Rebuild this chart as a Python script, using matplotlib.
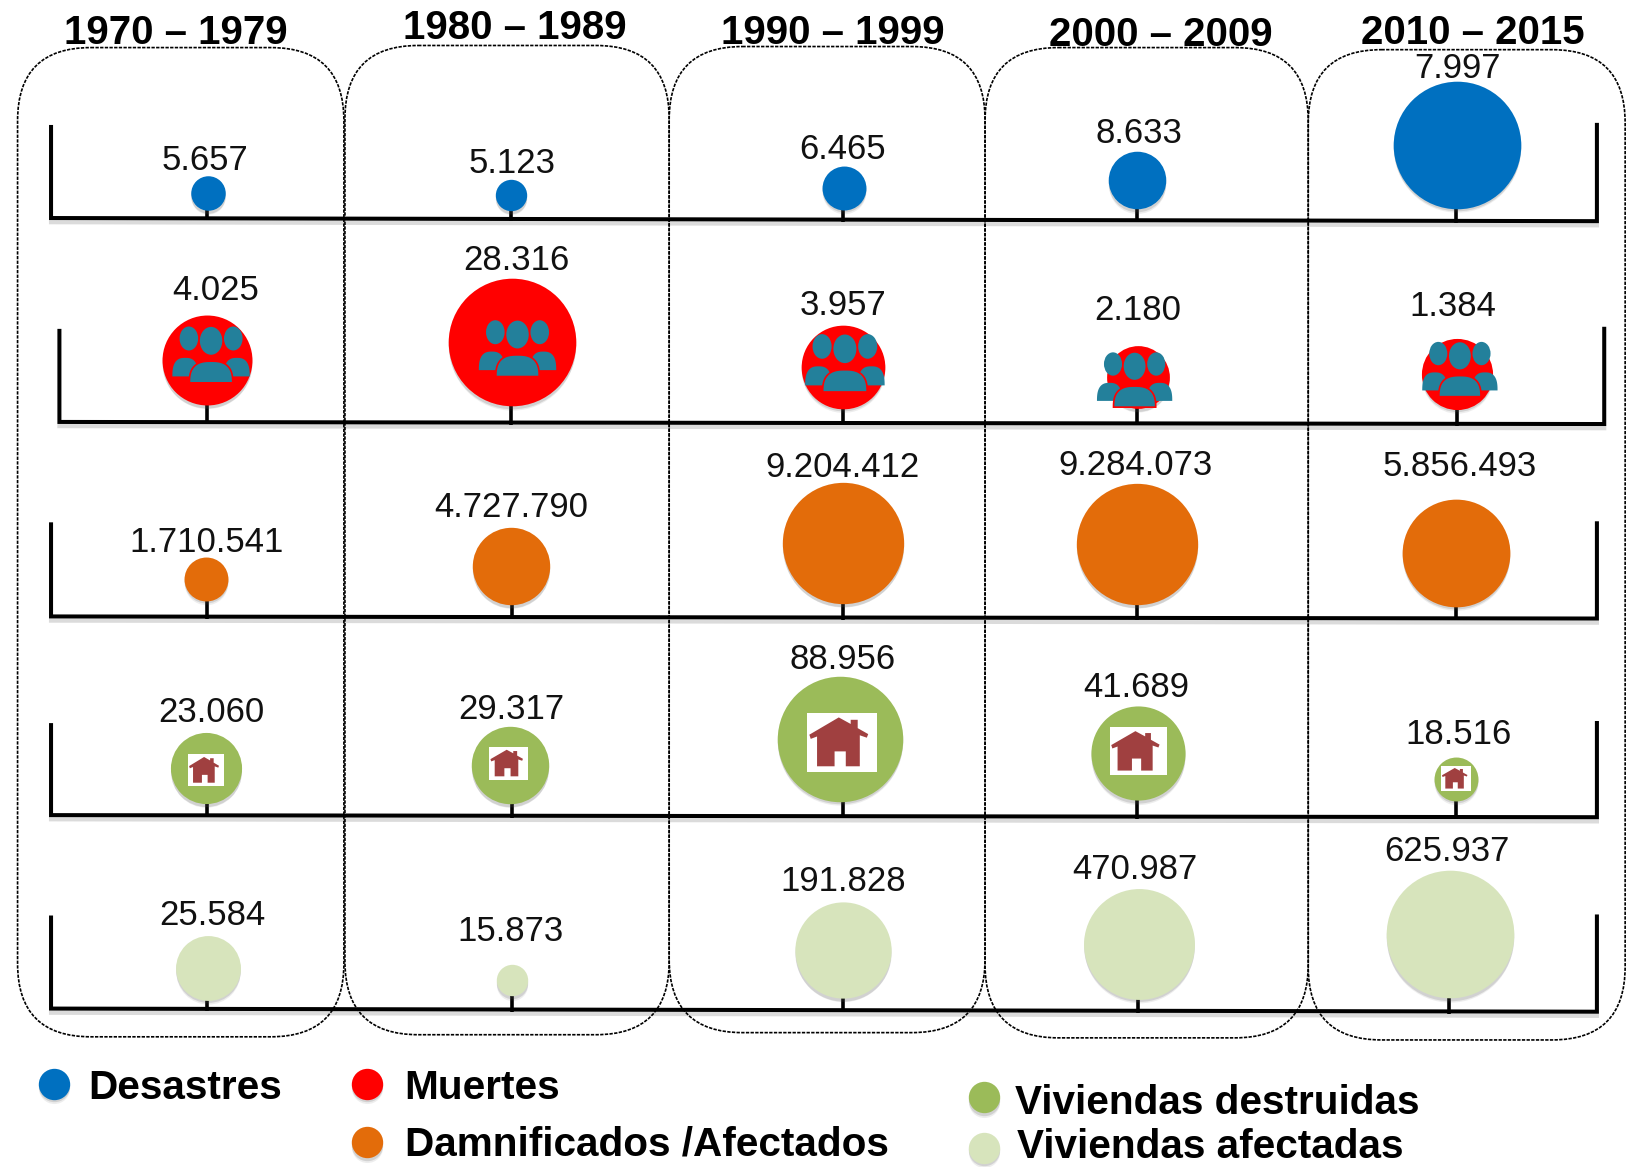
import numpy as np
import matplotlib
matplotlib.use("Agg")
import matplotlib.pyplot as plt
from matplotlib.patches import Ellipse, FancyBboxPatch, Polygon, Rectangle

plt.rcParams["font.family"] = ["Liberation Sans", "DejaVu Sans"]

# values per decade
periods = ["1970 – 1979", "1980 – 1989", "1990 – 1999", "2000 – 2009", "2010 – 2015"]
desastres = [5657, 5123, 6465, 8633, 7997]
muertes = [4025, 28316, 3957, 2180, 1384]
damnificados = [1710541, 4727790, 9204412, 9284073, 5856493]
viv_destruidas = [23060, 29317, 88956, 41689, 18516]
viv_afectadas = [25584, 15873, 191828, 470987, 625937]

# bubble diameters as drawn in the picture
d_desastres = [33, 30, 42, 55, 122]
d_muertes = [86, 122, 80, 60, 68]
d_damnificados = [42, 74, 116, 116, 103]
d_destruidas = [68, 74, 120, 90, 42]
d_afectadas = [62, 30, 92, 106, 122]

BLUE = "#0070C0"
RED = "#FF0000"
ORANGE = "#E36C0A"
GREEN = "#9BBB59"
PALE = "#D7E4BC"
TEAL = "#23809B"
BRICK = "#A04040"

PX = 1640 / 1568  # axes units -> output pixels

# layout of each row: values, sizes, colour, bubble centres, label centres, axis frame
rows = [
    dict(vals=desastres, diam=d_desastres, color=BLUE,
         cx=[199, 489, 807, 1087, 1393], cy=[185, 187, 180, 173, 139],
         lx=[196, 490, 806, 1089, 1394], ly=[154, 157, 143, 128, 66],
         x0=49, x1=1527, y0=209, y1=212, top0=120, top1=118,
         stems=[198, 489, 806, 1087, 1392]),
    dict(vals=muertes, diam=d_muertes, color=RED,
         cx=[198, 490, 806, 1088, 1393], cy=[345, 328, 351, 361, 358],
         lx=[206, 494, 806, 1088, 1389], ly=[278, 250, 293, 297, 294],
         x0=57, x1=1534, y0=404, y1=406, top0=315, top1=313,
         stems=[198, 489, 806, 1087, 1393]),
    dict(vals=damnificados, diam=d_damnificados, color=ORANGE,
         cx=[197, 489, 806, 1087, 1392], cy=[554, 542, 520, 521, 529],
         lx=[198, 489, 806, 1086, 1396], ly=[519, 486, 448, 446, 447],
         x0=49, x1=1527, y0=590, y1=592, top0=500, top1=499,
         stems=[198, 490, 806, 1087, 1392]),
    dict(vals=viv_destruidas, diam=d_destruidas, color=GREEN,
         cx=[197, 488, 803, 1088, 1392], cy=[735, 732, 707, 721, 745],
         lx=[202, 489, 806, 1087, 1395], ly=[682, 679, 631, 658, 703],
         x0=49, x1=1527, y0=780, y1=782, top0=692, top1=690,
         stems=[198, 490, 806, 1087, 1392]),
    dict(vals=viv_afectadas, diam=d_afectadas, color=PALE,
         cx=[199, 490, 806, 1089, 1387], cy=[926, 938, 909, 903, 894],
         lx=[203, 488, 806, 1085, 1384], ly=[876, 891, 843, 832, 815],
         x0=49, x1=1527, y0=965, y1=968, top0=876, top1=875,
         stems=[198, 490, 806, 1088, 1386]),
]

# x0, x1, y0, y1 of the dashed decade boxes and centre of each heading
boxes = [(17, 329, 46, 992), (330, 640, 44, 990), (640, 942, 45, 988),
         (942, 1251, 46, 993), (1251, 1554, 48, 995)]
head_x = [168, 492, 796, 1110, 1408]
head_y = [32, 27, 32, 34, 32]

# people icons (cx, cy, width), house icons (x0, x1, y0, y1)
people = [(202, 339, 74), (495, 333, 74), (808, 347, 76), (1085, 363, 72), (1396, 353, 72)]
houses = [(180, 214, 722, 752), (468, 505, 715, 746), (772, 839, 682, 739),
          (1061, 1116, 696, 742), (1378, 1407, 733, 757)]

# house outline, in fractions of the white square
house_shape = [(0.45, 0.08), (0.62, 0.19), (0.62, 0.12), (0.72, 0.12), (0.72, 0.26),
               (0.87, 0.36), (0.85, 0.42), (0.75, 0.38), (0.75, 0.90), (0.55, 0.90),
               (0.55, 0.65), (0.39, 0.65), (0.39, 0.90), (0.14, 0.90), (0.14, 0.40),
               (0.05, 0.44), (0.03, 0.37)]

legend = [("Desastres", BLUE, 52, 1037, 85, 1041),
          ("Muertes", RED, 351, 1037, 387, 1041),
          ("Damnificados /Afectados", ORANGE, 351, 1093, 387, 1095),
          ("Viviendas destruidas", GREEN, 941, 1050, 971, 1055),
          ("Viviendas afectadas", PALE, 941, 1098, 973, 1097)]


def bubble(ax, x, y, diam, color, z=4):
    # soft drop shadow below the marker
    size = (diam * PX * 72 / 100) ** 2
    for off, grow, alpha in [(4, 0.98, 0.10), (2.5, 1.0, 0.18)]:
        ax.scatter([x], [y + off], s=size * grow, color="#555555", alpha=alpha,
                   linewidths=0, zorder=z - 0.5)
    ax.scatter([x], [y], s=size, color=color, linewidths=0, zorder=z)


def dome(ax, cx, base, half_w, height, **kw):
    # flattened half ellipse, fuller than a plain one
    t = np.linspace(0, np.pi, 40)
    c, s = np.cos(t), np.sin(t)
    pts = np.column_stack([cx + half_w * np.sign(c) * np.abs(c) ** 0.75,
                           base - height * s ** 0.75])
    ax.add_patch(Polygon(pts, closed=True, **kw))


def draw_people(ax, cx, cy, w):
    for dx, dy, ew, eh in [(-0.287, -0.2, 0.24, 0.31), (0.287, -0.2, 0.24, 0.31),
                           (0, -0.17, 0.29, 0.36)]:
        ax.add_patch(Ellipse((cx + dx * w, cy + dy * w), ew * w, eh * w,
                             color=TEAL, lw=0, zorder=6))
    for dx in (-0.333, 0.333):
        dome(ax, cx + dx * w, cy + 0.29 * w, 0.167 * w, 0.24 * w,
             facecolor=TEAL, edgecolor="none", zorder=6)
    dome(ax, cx, cy + 0.373 * w, 0.28 * w, 0.28 * w,
         facecolor=TEAL, edgecolor=RED, lw=1.2, zorder=7)


def draw_house(ax, x0, x1, y0, y1):
    ax.add_patch(Rectangle((x0, y0), x1 - x0, y1 - y0, color="white", lw=0, zorder=6))
    pts = [(x0 + fx * (x1 - x0), y0 + fy * (y1 - y0)) for fx, fy in house_shape]
    ax.add_patch(Polygon(pts, closed=True, facecolor=BRICK, edgecolor="none", zorder=7))


def main():
    fig = plt.figure(figsize=(16.4, 11.67), dpi=100)
    ax = fig.add_axes([0, 0, 1, 1])
    ax.set_xlim(0.2, 1568.2)
    ax.set_ylim(1116.5, 0.5)
    ax.axis("off")

    for (x0, x1, y0, y1), name, hx, hy in zip(boxes, periods, head_x, head_y):
        ax.add_patch(FancyBboxPatch((x0, y0), x1 - x0, y1 - y0,
                                    boxstyle="round,pad=0,rounding_size=70",
                                    fill=False, edgecolor="black", lw=1.2,
                                    linestyle=(0, (2, 0.8)), zorder=3))
        ax.text(hx, hy, name, ha="center", va="center", fontsize=29,
                fontweight="bold", color="black", zorder=8)

    for row in rows:
        xs = [row["x0"], row["x0"], row["x1"], row["x1"]]
        ys = [row["top0"], row["y0"], row["y1"], row["top1"]]
        ax.plot(xs[1:3], [y + 4 for y in ys[1:3]], color="#888888",
                lw=3, alpha=0.3, zorder=1.5)
        ax.plot(xs, ys, color="black", lw=2.9, solid_joinstyle="miter",
                solid_capstyle="butt", zorder=2)
        slope = (row["y1"] - row["y0"]) / (row["x1"] - row["x0"])
        for sx, cy in zip(row["stems"], row["cy"]):
            base = row["y0"] + slope * (sx - row["x0"])
            ax.plot([sx, sx], [cy, base + 2], color="black", lw=2.6,
                    solid_capstyle="butt", zorder=2)
        for i, val in enumerate(row["vals"]):
            bubble(ax, row["cx"][i], row["cy"][i], row["diam"][i], row["color"])
            ax.text(row["lx"][i], row["ly"][i], f"{val:,}".replace(",", "."),
                    ha="center", va="center", fontsize=25, color="#111111", zorder=8)

    for cx, cy, w in people:
        draw_people(ax, cx, cy, w)
    for x0, x1, y0, y1 in houses:
        draw_house(ax, x0, x1, y0, y1)

    for label, color, mx, my, tx, ty in legend:
        bubble(ax, mx, my, 30, color)
        ax.text(tx, ty, label, ha="left", va="center", fontsize=29.2,
                fontweight="bold", color="black", zorder=8)

    fig.savefig("out.png", dpi=100, facecolor="white")


if __name__ == "__main__":
    main()
